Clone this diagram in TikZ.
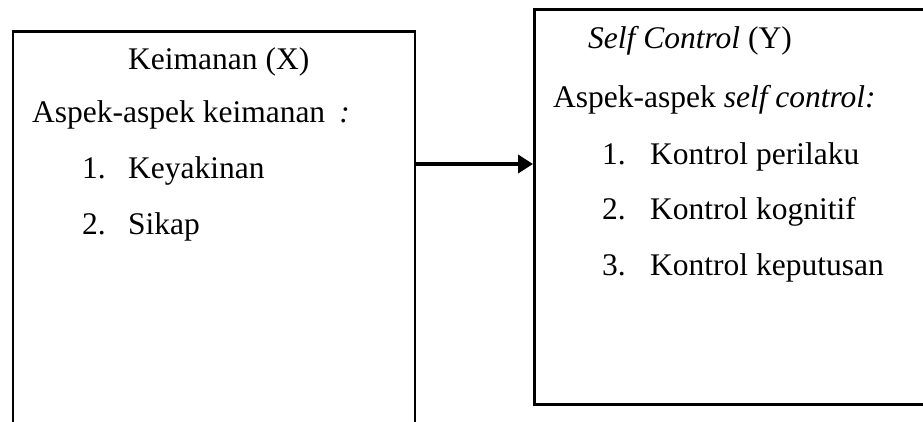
\documentclass[tikz,border=0pt]{standalone}
\usepackage{fontspec}
\setmainfont{Liberation Serif}
\usetikzlibrary{arrows.meta}
\begin{document}
\begin{tikzpicture}[x=1pt,y=1pt,
  boxstyle/.style={draw=black,line width=2.6pt,rectangle,inner sep=0pt,anchor=north west},
  txt/.style={inner sep=0pt,anchor=base west,font=\fontsize{31.5pt}{36pt}\selectfont},
  arrowstyle/.style={line width=3.8pt,-{Triangle[length=15pt,width=18pt]}}]
\useasboundingbox (0,0) rectangle (923,-421);
\clip (0,0) rectangle (923,-421);
\node[boxstyle,minimum width=402pt,minimum height=430pt] (lbox) at (11.5,-30) {};
\node[boxstyle,minimum width=420pt,minimum height=395pt] (rbox) at (533,-8) {};
% left box text
\node[txt] (l1) at (128,-69) {Keimanan (X)};
\node[txt] (l2) at (32,-122) {Aspek-aspek keimanan\hspace{0.45em}\textit{:}};
\node[txt] (l3n) at (82,-178) {1.};
\node[txt] (l3) at (128,-178) {Keyakinan};
\node[txt] (l4n) at (82,-234) {2.};
\node[txt] (l4) at (128,-234) {Sikap};
% right box text
\node[txt] (r1) at (588,-48) {\textit{Self Control} (Y)};
\node[txt] (r2) at (553,-107) {Aspek-aspek \textit{self control:}};
\node[txt] (r3n) at (602,-164) {1.};
\node[txt] (r3) at (650,-164) {Kontrol perilaku};
\node[txt] (r4n) at (602,-219) {2.};
\node[txt] (r4) at (650,-219) {Kontrol kognitif};
\node[txt] (r5n) at (602,-275) {3.};
\node[txt] (r5) at (650,-275) {Kontrol keputusan};
% arrow
\coordinate (arr) at (0,-164);
\draw[arrowstyle] (arr -| lbox.east) -- (arr -| rbox.west);
\end{tikzpicture}
\end{document}
